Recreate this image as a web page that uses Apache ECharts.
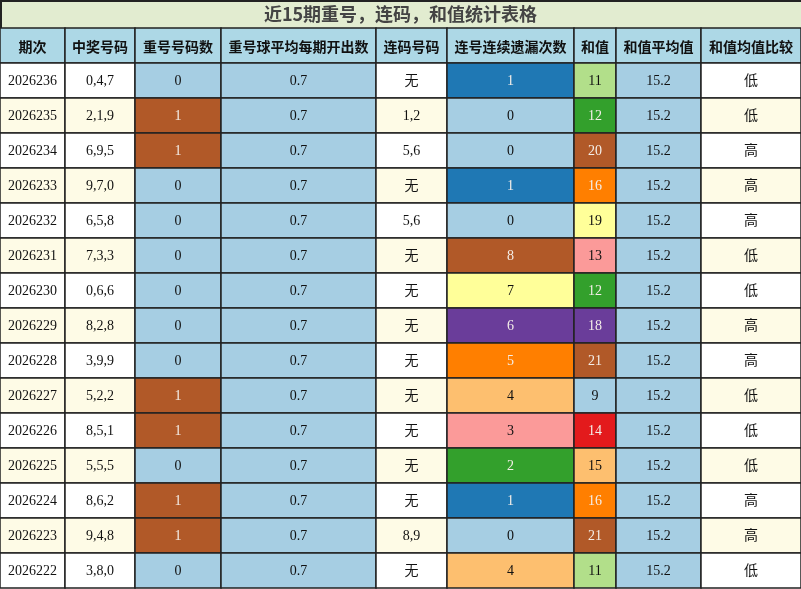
<!DOCTYPE html>
<html>
<head>
<meta charset="utf-8">
<script src="https://cdn.jsdelivr.net/npm/echarts@6/dist/echarts.min.js"></script>
<style>html,body{margin:0;padding:0;background:#fff}#chart{width:801px;height:589px}</style>
</head>
<body>
<div id="chart"></div>
<script>
const title = '近15期重号，连码，和值统计表格';
const headers = ['期次', '中奖号码', '重号号码数', '重号球平均每期开出数', '连码号码', '连号连续遗漏次数', '和值', '和值平均值', '和值均值比较'];
const periods = ['2026236', '2026235', '2026234', '2026233', '2026232', '2026231', '2026230', '2026229', '2026228', '2026227', '2026226', '2026225', '2026224', '2026223', '2026222'];
const numbers = ['0,4,7', '2,1,9', '6,9,5', '9,7,0', '6,5,8', '7,3,3', '0,6,6', '8,2,8', '3,9,9', '5,2,2', '8,5,1', '5,5,5', '8,6,2', '9,4,8', '3,8,0'];
const repeatCounts = [0, 1, 1, 0, 0, 0, 0, 0, 0, 1, 1, 0, 1, 1, 0];
const repeatAvg = 0.7;
const consecNums = ['无', '1,2', '5,6', '无', '5,6', '无', '无', '无', '无', '无', '无', '无', '无', '8,9', '无'];
const consecMiss = [1, 0, 0, 1, 0, 8, 7, 6, 5, 4, 3, 2, 1, 0, 4];
const sums = [11, 12, 20, 16, 19, 13, 12, 18, 21, 9, 14, 15, 16, 21, 11];
const sumAvg = 15.2;
const compare = ['低', '低', '高', '高', '高', '低', '低', '高', '高', '低', '低', '低', '高', '高', '低'];

// layout
const colEdges = [0, 65, 135, 221, 376, 447, 574, 616, 701, 801];
const titleH = 28, headH = 35, rowH = 35;
const W = 801, H = 589;

const missColor = {0: '#a6cee3', 1: '#1f78b4', 2: '#33a02c', 3: '#fb9a99', 4: '#fdbf6f', 5: '#ff7f00', 6: '#6a3d9a', 7: '#ffff99', 8: '#b15928'};
const sumColor = {9: '#a6cee3', 11: '#b2df8a', 12: '#33a02c', 13: '#fb9a99', 14: '#e31a1c', 15: '#fdbf6f', 16: '#ff7f00', 18: '#6a3d9a', 19: '#ffff99', 20: '#b15928', 21: '#b15928'};
const darkBg = ['#1f78b4', '#33a02c', '#6a3d9a', '#b15928', '#ff7f00', '#e31a1c'];

function stripe(r) { return r % 2 === 0 ? '#ffffff' : '#fefbe6'; }

let cells = [];
headers.forEach((h, c) => cells.push({value: [c, -1], text: h, bg: '#add8e6', head: true}));
periods.forEach((p, r) => {
  const row = [
    [p, stripe(r)],
    [numbers[r], stripe(r)],
    [String(repeatCounts[r]), repeatCounts[r] ? '#b15928' : '#a6cee3'],
    [String(repeatAvg), '#a6cee3'],
    [consecNums[r], stripe(r)],
    [String(consecMiss[r]), missColor[consecMiss[r]]],
    [String(sums[r]), sumColor[sums[r]]],
    [String(sumAvg), '#a6cee3'],
    [compare[r], stripe(r)]
  ];
  row.forEach((v, c) => cells.push({value: [c, r], text: v[0], bg: v[1]}));
});

function renderCell(params, api) {
  const c = api.value(0), r = api.value(1);
  const d = cells[params.dataIndex];
  const y0 = r < 0 ? titleH : titleH + headH + r * rowH;
  const h = r < 0 ? headH : rowH;
  const p0 = api.coord([colEdges[c], y0]);
  const p1 = api.coord([colEdges[c + 1], y0 + h]);
  const light = darkBg.indexOf(d.bg) >= 0;
  return {
    type: 'group',
    children: [{
      type: 'rect',
      shape: {x: p0[0], y: p0[1], width: p1[0] - p0[0], height: p1[1] - p0[1]},
      style: {fill: d.bg, stroke: '#222', lineWidth: 1.5}
    }, {
      type: 'text',
      style: {
        x: (p0[0] + p1[0]) / 2, y: (p0[1] + p1[1]) / 2 + 1,
        text: d.text, align: 'center', verticalAlign: 'middle',
        fill: d.head ? '#111' : (light ? '#f4eee8' : '#111'),
        font: d.head ? 'bold 14px "Noto Sans CJK SC"' : '14px "Liberation Serif", "Noto Sans CJK SC"'
      }
    }]
  };
}

let chart = echarts.init(document.getElementById('chart'));
chart.setOption({
  animation: false,
  grid: {left: 0, right: 0, top: 0, bottom: 0},
  xAxis: {type: 'value', min: 0, max: W, show: false},
  yAxis: {type: 'value', min: 0, max: H, inverse: true, show: false},
  graphic: [{
    type: 'rect', left: 0, top: 0,
    shape: {width: W, height: titleH},
    style: {fill: '#e2ecd0', stroke: '#222', lineWidth: 2}
  }, {
    type: 'text', left: 'center', top: 5,
    style: {text: title, fill: '#444', font: 'bold 18px "Noto Sans CJK SC"'}
  }],
  series: [{
    type: 'custom',
    renderItem: renderCell,
    data: cells.map(d => d.value)
  }]
});
</script>
</body>
</html>
